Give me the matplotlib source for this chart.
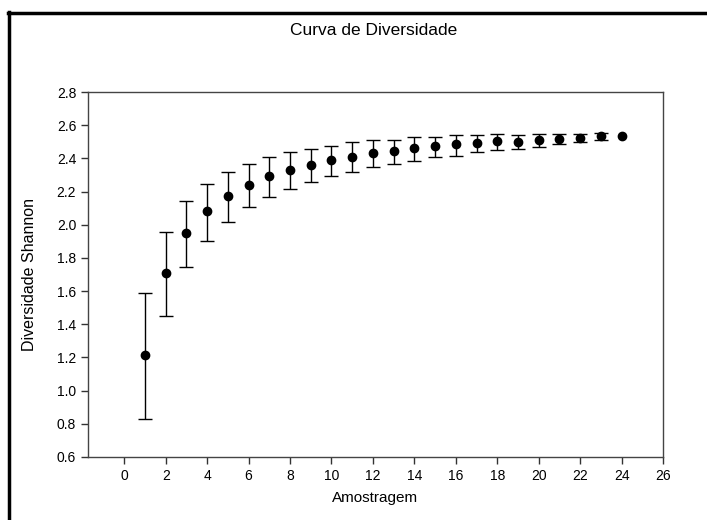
import numpy as np
import matplotlib.pyplot as plt
from matplotlib.lines import Line2D

plt.rcParams['font.family'] = ['Liberation Sans', 'DejaVu Sans']

amostra = list(range(1, 25))
media = [1.216, 1.71, 1.95, 2.08, 2.172, 2.242, 2.292, 2.332, 2.362, 2.392,
         2.41, 2.433, 2.445, 2.463, 2.473, 2.485, 2.493, 2.503, 2.50, 2.511,
         2.519, 2.521, 2.533, 2.533]
sup = [1.59, 1.955, 2.145, 2.246, 2.316, 2.366, 2.407, 2.44, 2.457, 2.477,
       2.497, 2.509, 2.509, 2.529, 2.529, 2.539, 2.539, 2.549, 2.539, 2.549,
       2.549, 2.545, 2.553, np.nan]
inf = [0.83, 1.45, 1.744, 1.904, 2.015, 2.105, 2.166, 2.216, 2.256, 2.296,
       2.318, 2.346, 2.366, 2.386, 2.407, 2.416, 2.437, 2.449, 2.457, 2.467,
       2.489, 2.499, 2.509, np.nan]

erro_inf = np.array(media) - np.array(inf)
erro_sup = np.array(sup) - np.array(media)

fig = plt.figure(figsize=(7.07, 5.2), dpi=100)
ax = fig.add_axes([0.1245, 0.1212, 0.8133, 0.7018])

# barras de erro (a última amostra não tem)
ok = ~np.isnan(erro_sup)
ax.errorbar(np.array(amostra)[ok], np.array(media)[ok],
            yerr=[erro_inf[ok], erro_sup[ok]], fmt='none',
            ecolor='black', elinewidth=1, capsize=5, capthick=1)
ax.plot(amostra, media, 'o', color='black', markersize=6)

ax.set_xlim(-1.75, 26)
ax.set_ylim(0.6, 2.8)
ax.set_xticks(range(0, 27, 2))
ax.set_yticks(np.arange(0.6, 2.81, 0.2))
ax.set_yticklabels(['%.1f' % v for v in np.arange(0.6, 2.81, 0.2)])
ax.tick_params(direction='out', length=5, width=1, labelsize=10, color='#333333')
for s in ax.spines.values():
    s.set_color('#444444')
    s.set_linewidth(1)

ax.set_xlabel('Amostragem', fontsize=11, labelpad=6)
ax.set_ylabel('Diversidade Shannon', fontsize=11.5, labelpad=14)
fig.text(0.529, 0.942, 'Curva de Diversidade', ha='center', va='center', fontsize=12.5)

# moldura
fig.add_artist(Line2D([0.012, 1.0], [0.975, 0.975], color='black', linewidth=2.5))
fig.add_artist(Line2D([0.0125, 0.0125], [0.0, 0.976], color='black', linewidth=2.5))

fig.savefig('out.png', dpi=100)
